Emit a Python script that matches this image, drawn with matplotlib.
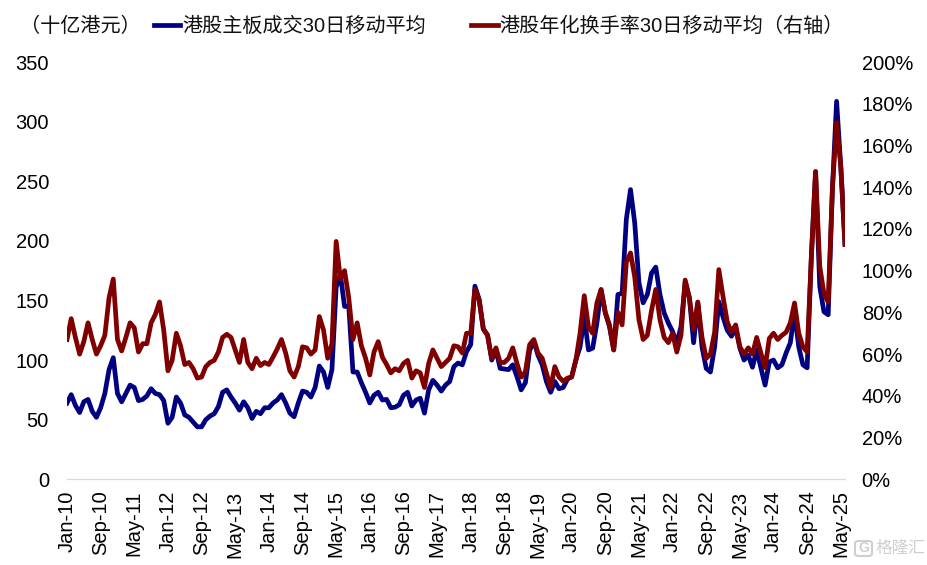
import matplotlib
matplotlib.use("Agg")
import matplotlib.pyplot as plt
import numpy as np
from matplotlib.patches import FancyBboxPatch

plt.rcParams["font.family"] = ["Liberation Sans", "Noto Sans CJK SC"]

# monthly readings, Jan-10 onwards
volume_30d = [
    64, 71, 62, 56, 65, 67, 57, 52, 60, 72, 92, 102,
    72, 65, 72, 79, 77, 66, 67, 70, 76, 72, 71, 66,
    47, 52, 69, 64, 54, 52, 48, 44, 44, 50, 53, 55,
    61, 73, 75, 69, 64, 58, 65, 60, 51, 57, 55, 60,
    60, 64, 66.5, 71, 64, 55.5, 52.5, 64, 74, 73, 69, 77,
    95, 90, 77, 92, 161, 172, 145, 145, 90, 90, 81, 73,
    64, 70.5, 73, 66.5, 67, 60, 60.5, 62.5, 70.5, 73, 61.5, 66.5,
    68, 55.5, 75, 83, 79, 74, 79, 82, 94.5, 97.5, 96, 107,
    113, 162, 151, 126, 121, 100, 108.5, 93, 92.5, 92, 96, 86,
    75, 81, 108, 116, 104, 96, 82, 73, 82, 76, 77, 84,
    86, 100, 111, 136, 108.5, 110, 131, 159, 139.5, 128, 108.5, 155,
    156, 218, 243, 215, 165, 148, 155, 173, 178, 155, 139.5, 131,
    124, 114, 128, 165.5, 152, 114.5, 148, 111, 93, 90, 111, 149,
    136, 125, 120, 127, 110, 100, 104, 94, 108.5, 93.5, 79, 98.5,
    100, 93.5, 96, 106, 114.5, 140.5, 111, 96, 93.5, 187, 258, 161.5,
    140.5, 138, 243, 317, 262, 197,
]
turnover_30d = [
    67, 77, 68, 60, 66, 75, 67, 60, 64, 69, 87, 96,
    67, 61.5, 68, 75, 72.6, 61, 65, 65, 75, 79, 85, 71.5,
    52, 57, 70, 64, 55, 56, 53, 48.5, 49, 54, 56, 57,
    61, 68, 69.5, 68, 62, 56, 67, 56, 53, 58, 54.5, 56,
    55, 58.6, 62.5, 67, 60.5, 52, 49, 54, 63.5, 63, 60, 62,
    78, 71.5, 58, 65, 114, 96, 100, 87, 67, 75, 64, 58,
    50, 61, 66, 58.5, 55, 51, 53, 52, 55.5, 57, 48.5, 52,
    51, 44, 55.5, 62, 58, 54, 56, 58, 64, 63.5, 60.5, 70,
    70, 91, 86, 72, 69, 58, 63, 56, 56, 58, 63, 55.5,
    49, 51.5, 64.5, 67, 60.5, 58, 51, 44, 54, 49, 47, 48.5,
    49, 57, 70, 88, 73, 70, 84.5, 91, 80, 74, 62, 80,
    74, 104, 108.5, 97, 76.5, 67, 69, 81, 91, 76.5, 68, 65.5,
    70, 61, 69, 95.5, 87, 71.5, 85, 68, 58, 60, 70.5, 100.5,
    87.5, 75.5, 70.5, 74, 63.5, 60, 63, 60, 68, 60.5, 53.5, 67.5,
    70, 67, 69, 70.5, 75, 84.5, 70, 63.5, 61, 106.5, 147.5, 102,
    89, 85, 139, 171, 150, 112.5,
]
x_labels = [
    "Jan-10", "Sep-10", "May-11", "Jan-12", "Sep-12", "May-13", "Jan-14", "Sep-14",
    "May-15", "Jan-16", "Sep-16", "May-17", "Jan-18", "Sep-18", "May-19", "Jan-20",
    "Sep-20", "May-21", "Jan-22", "Sep-22", "May-23", "Jan-24", "Sep-24", "May-25",
]
left_ticks = [0, 50, 100, 150, 200, 250, 300, 350]
right_ticks = [0, 20, 40, 60, 80, 100, 120, 140, 160, 180, 200]

BLUE = "#000080"
RED = "#800000"
FONT_SIZE = 14.5
LINE_W = 3.4

fig = plt.figure(figsize=(9.28, 5.65), dpi=100)
ax = fig.add_axes([67 / 928, 1 - 479.3 / 565, 778 / 928, 417.3 / 565])
ax2 = ax.twinx()

months = np.arange(len(volume_30d))
line1, = ax.plot(months, volume_30d, color=BLUE, linewidth=LINE_W, solid_joinstyle="round",
                 label="港股主板成交30日移动平均")
line2, = ax2.plot(months, turnover_30d, color=RED, linewidth=LINE_W, solid_joinstyle="round",
                  label="港股年化换手率30日移动平均（右轴）")

ax.set_xlim(0, months[-1])
ax.set_ylim(0, 350)
ax2.set_ylim(0, 200)
ax.set_xticks(np.arange(len(x_labels)) * 8)
ax.set_xticklabels(x_labels, rotation=90, fontsize=FONT_SIZE)
ax.set_yticks(left_ticks)
ax.tick_params(axis="y", length=0, pad=13, labelsize=FONT_SIZE)
ax.tick_params(axis="x", length=0, pad=8)
ax2.set_yticks(right_ticks)
ax2.set_yticklabels([f"{v}%" for v in right_ticks])
ax2.tick_params(axis="y", length=0, pad=12, labelsize=FONT_SIZE)

for a in (ax, ax2):
    for side in ("top", "left", "right"):
        a.spines[side].set_visible(False)
    a.spines["bottom"].set_color("#d9d9d9")

fig.text(20 / 928, 1 - 26 / 565, "（十亿港元）", fontsize=FONT_SIZE, va="center", color="#111111")
fig.legend(handles=[line1, line2], ncols=2, frameon=False, fontsize=FONT_SIZE,
           loc="center left", bbox_to_anchor=(136 / 928, 1 - 26 / 565), handlelength=1.3,
           handletextpad=0.1, columnspacing=2.25, borderpad=0.4, labelcolor="#111111")

# watermark
logo = FancyBboxPatch((855 / 928, 1 - 556 / 565), 17 / 928, 15 / 565, transform=fig.transFigure,
                      boxstyle="round,pad=0,rounding_size=0.004", facecolor="none",
                      edgecolor="#cfcfcf", linewidth=1.5)
fig.add_artist(logo)
fig.text(863.5 / 928, 1 - 548.5 / 565, "G", fontsize=10, color="#cfcfcf", ha="center", va="center",
         fontweight="bold")
fig.text(876 / 928, 1 - 548.5 / 565, "格隆汇", fontsize=12, color="#cfcfcf", va="center")

fig.savefig("out.png", dpi=100)
